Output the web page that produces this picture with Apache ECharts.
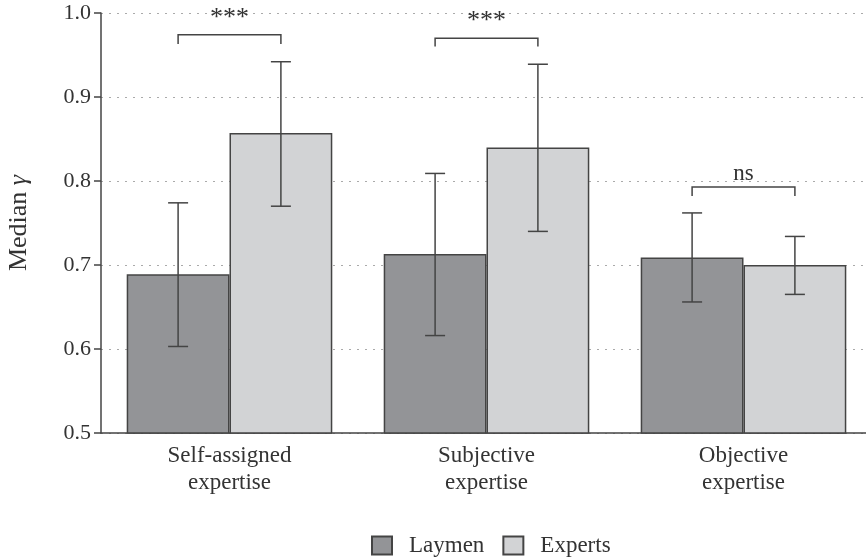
<!DOCTYPE html>
<html><head><meta charset="utf-8">
<script src="https://cdn.jsdelivr.net/npm/echarts@6/dist/echarts.min.js"></script>
<style>html,body{margin:0;padding:0;background:#fff}#c{width:866px;height:558px}</style>
</head><body><div id="c"></div>
<script>
const categories = ['Self-assigned\nexpertise', 'Subjective\nexpertise', 'Objective\nexpertise'];
const laymen = [0.689, 0.713, 0.709];
const experts = [0.857, 0.840, 0.700];
const laymenLow = [0.603, 0.616, 0.656];
const laymenHigh = [0.774, 0.809, 0.762];
const expertsLow = [0.770, 0.740, 0.665];
const expertsHigh = [0.942, 0.939, 0.734];
const sigLabels = ['***', '***', 'ns'];
const bracketTop = [0.974, 0.970, 0.793];
const bracketLeg = [0.963, 0.960, 0.782];

const FONT = 'Liberation Serif';
const INK = '#444';
const TXT = '#333';

function errData(low, high) { return categories.map((c, i) => [i, low[i], high[i]]); }

function errRender(side) {
  return function (params, api) {
    const i = api.value(0);
    const band = api.size([1, 0])[0];
    const off = side * band * 0.2;
    const p1 = api.coord([i, api.value(1)]);
    const p2 = api.coord([i, api.value(2)]);
    const x = p1[0] + off;
    const cap = 10;
    const st = { stroke: INK, lineWidth: 1.5 };
    return { type: 'group', children: [
      { type: 'line', shape: { x1: x, y1: p1[1], x2: x, y2: p2[1] }, style: st },
      { type: 'line', shape: { x1: x - cap, y1: p1[1], x2: x + cap, y2: p1[1] }, style: st },
      { type: 'line', shape: { x1: x - cap, y1: p2[1], x2: x + cap, y2: p2[1] }, style: st }
    ]};
  };
}

const chart = echarts.init(document.getElementById('c'));
chart.setOption({
  animation: false,
  backgroundColor: '#fff',
  grid: { left: 101, top: 13, width: 771, height: 420, containLabel: false, outerBoundsMode: 'none' },
  legend: {
    data: ['Laymen', 'Experts'], left: 371, top: 534, padding: 0,
    icon: 'rect', itemWidth: 20, itemHeight: 18, itemGap: 18,
    textStyle: { fontFamily: FONT, fontSize: 23, color: TXT, padding: [0, 0, 0, 12] }
  },
  xAxis: {
    type: 'category', data: categories,
    axisLine: { lineStyle: { color: INK, width: 1.5 } },
    axisTick: { show: false },
    axisLabel: { fontFamily: FONT, fontSize: 23, color: TXT, lineHeight: 27, margin: 9 }
  },
  yAxis: {
    type: 'value', min: 0.5, max: 1.0, interval: 0.1,
    name: 'Median {i|γ}', nameLocation: 'middle', nameGap: 69, nameRotate: 90,
    nameTextStyle: { fontFamily: FONT, fontSize: 26, color: TXT,
      rich: { i: { fontFamily: FONT, fontSize: 26, fontStyle: 'italic', color: TXT } } },
    axisLine: { show: true, lineStyle: { color: INK, width: 1.5 } },
    axisTick: { show: true, inside: false, length: 7, lineStyle: { color: INK, width: 1.5 } },
    axisLabel: { fontFamily: FONT, fontSize: 22, color: TXT, margin: 10,
      formatter: v => v.toFixed(1) },
    splitLine: { show: true, lineStyle: { color: '#aaa', type: [2, 6], width: 1.2 } }
  },
  series: [
    { name: 'Laymen', type: 'bar', data: laymen, barGap: '0%', barCategoryGap: '20%',
      itemStyle: { color: '#939497', borderColor: INK, borderWidth: 1.5 } },
    { name: 'Experts', type: 'bar', data: experts, barGap: '0%', barCategoryGap: '20%',
      itemStyle: { color: '#d2d3d5', borderColor: INK, borderWidth: 1.5 } },
    { name: 'errL', type: 'custom', data: errData(laymenLow, laymenHigh), renderItem: errRender(-1), z: 5,
      encode: { x: 0, y: [1, 2] } },
    { name: 'errE', type: 'custom', data: errData(expertsLow, expertsHigh), renderItem: errRender(1), z: 5,
      encode: { x: 0, y: [1, 2] } },
    { name: 'sig', type: 'custom', z: 6,
      data: categories.map((c, i) => [i, bracketTop[i], bracketLeg[i]]),
      encode: { x: 0, y: [1, 2] },
      renderItem: function (params, api) {
        const i = api.value(0);
        const band = api.size([1, 0])[0];
        const off = band * 0.2;
        const t = api.coord([i, api.value(1)]);
        const b = api.coord([i, api.value(2)]);
        const st = { stroke: INK, lineWidth: 1.5, fill: null };
        const lab = sigLabels[params.dataIndex];
        return { type: 'group', children: [
          { type: 'polyline', shape: { points: [[t[0] - off, b[1]], [t[0] - off, t[1]], [t[0] + off, t[1]], [t[0] + off, b[1]]] }, style: st },
          { type: 'text', style: { x: t[0], y: t[1] - (lab === 'ns' ? 1 : 4), text: lab,
            align: 'center', verticalAlign: 'bottom', fontFamily: FONT, fontSize: lab === 'ns' ? 23 : 26, fill: TXT } }
        ]};
      }
    }
  ]
});
</script></body></html>
